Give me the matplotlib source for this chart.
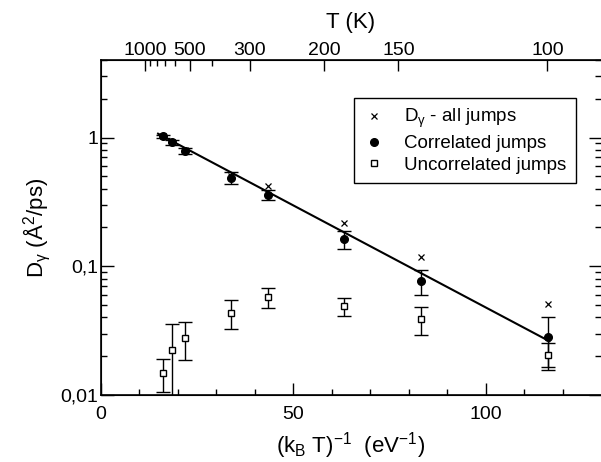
import numpy as np
import matplotlib
matplotlib.use('Agg')
import matplotlib.pyplot as plt

plt.rcParams['font.family'] = ['Liberation Sans', 'DejaVu Sans']
plt.rcParams['mathtext.fontset'] = 'custom'
plt.rcParams['mathtext.rm'] = 'Liberation Sans'
plt.rcParams['mathtext.it'] = 'Liberation Sans:italic'
plt.rcParams['mathtext.default'] = 'regular'

KB = 8.617e-5  # eV/K

# inverse temperature (1/eV)
x_corr = [16.2, 18.6, 21.8, 33.8, 43.6, 63.1, 83.2, 116.2]
d_corr = [1.02, 0.915, 0.79, 0.489, 0.36, 0.162, 0.0766, 0.0284]
e_corr = [0.035, 0.035, 0.045, 0.055, 0.031, 0.026, 0.017, 0.012]

d_all = [1.03, 0.93, 0.80, 0.50, 0.417, 0.217, 0.117, 0.051]

d_unc = [0.0148, 0.0225, 0.0278, 0.0434, 0.0575, 0.0487, 0.0387, 0.0204]
e_unc = [0.0043, 0.013, 0.009, 0.011, 0.0098, 0.0077, 0.0095, 0.0048]

# Arrhenius fit
fit_prefactor = 1.845
fit_slope = 0.0365
fit_xrange = [14.9, 116.6]

t_major = [1000, 500, 300, 200, 150, 100]
t_minor = [900, 800, 700, 600, 400]

fig = plt.figure(figsize=(6.01, 4.62), dpi=100)
ax = fig.add_axes([100.7 / 601, 67 / 462, 500.3 / 601, 335 / 462])

xf = np.linspace(fit_xrange[0], fit_xrange[1], 50)
ax.plot(xf, fit_prefactor * np.exp(-fit_slope * xf), color='black', lw=1.5, zorder=2)

eb = dict(fmt='none', ecolor='black', capsize=5, elinewidth=1, capthick=1, zorder=3)
ax.errorbar(x_corr, d_corr, yerr=e_corr, **eb)
ax.errorbar(x_corr, d_unc, yerr=e_unc, **eb)

ax.plot(x_corr, d_all, 'x', color='black', ms=4, mew=0.9, zorder=2,
        label=r'D$_\gamma$ - all jumps')
ax.plot(x_corr, d_corr, 'o', color='black', ms=5.5, zorder=4,
        label='Correlated jumps')
ax.plot(x_corr, d_unc, 's', color='black', mfc='white', ms=5, mew=1, zorder=4,
        label='Uncorrelated jumps')

ax.set_yscale('log')
ax.set_xlim(0, 130)
ax.set_ylim(0.01, 4)
ax.set_yticks([0.01, 0.1, 1])
ax.set_yticklabels(['0,01', '0,1', '1'])
ax.set_xticks([0, 50, 100])
ax.set_xticks(np.arange(10, 130, 10), minor=True)
ax.tick_params(which='both', direction='in', right=True, labelsize=14, width=1)
ax.tick_params(which='major', length=9)
ax.tick_params(which='minor', length=4.5)
ax.tick_params(axis='y', pad=2)
ax.tick_params(axis='x', pad=8)
ax.spines['right'].set_visible(False)
for s in ['left', 'bottom', 'top']:
    ax.spines[s].set_linewidth(1.2)

ax.set_xlabel(r'(k$_B$ T)$^{-1}$  (eV$^{-1}$)', fontsize=16, labelpad=5)
ax.set_ylabel(r'D$_\gamma$ (Å$^2$/ps)', fontsize=16, labelpad=6)

# top axis in temperature
ax2 = ax.twiny()
ax2.set_xlim(ax.get_xlim())
ax2.set_xticks([1 / (KB * t) for t in t_major])
ax2.set_xticklabels([str(t) for t in t_major])
ax2.set_xticks([1 / (KB * t) for t in t_minor], minor=True)
ax2.tick_params(which='both', direction='in', labelsize=14, width=1, pad=1)
ax2.tick_params(which='major', length=8)
ax2.tick_params(which='minor', length=4)
ax2.spines['right'].set_visible(False)
ax2.set_xlabel('T (K)', fontsize=16, labelpad=10)

leg = ax.legend(loc='upper left', bbox_to_anchor=(0.506, 0.887), borderaxespad=0,
                fontsize=13.5, fancybox=False, edgecolor='black', framealpha=1,
                handlelength=1.2, handletextpad=1.0, borderpad=0.5, labelspacing=0.25)
leg.get_frame().set_linewidth(1)

fig.savefig('out.png', dpi=100)
